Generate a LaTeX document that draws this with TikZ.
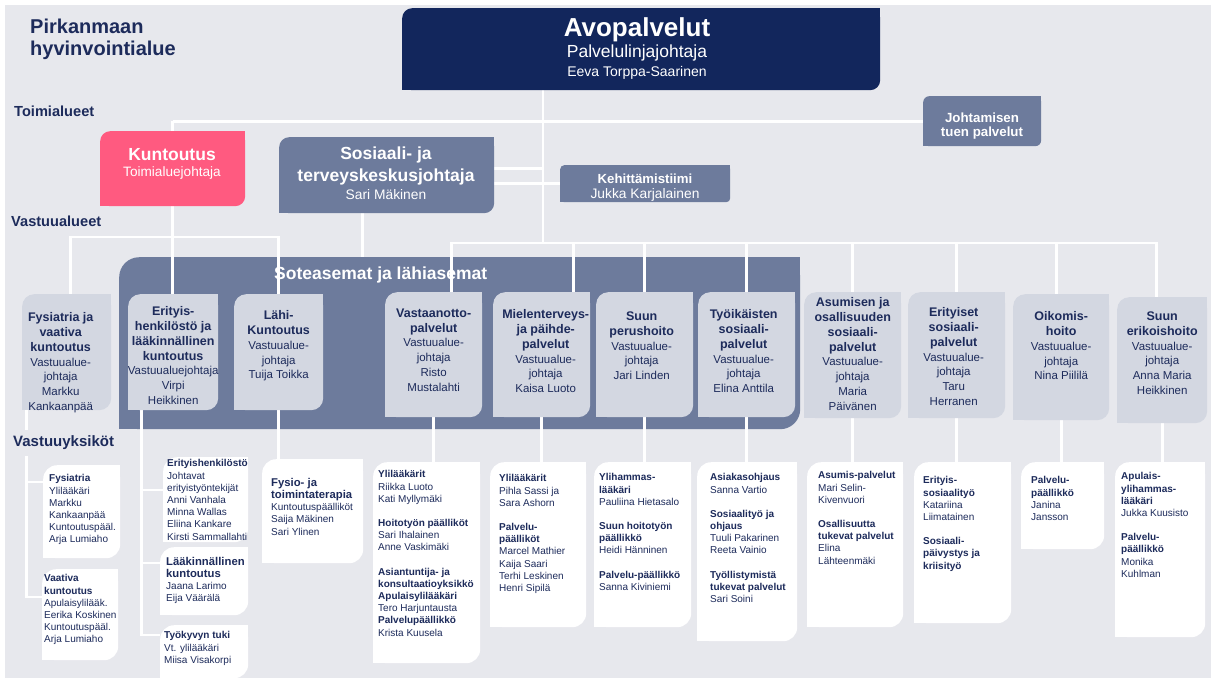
\documentclass[tikz,border=0pt]{standalone}
\usepackage{fontspec}
\setmainfont{Liberation Sans}
\usepackage{tikz}
\usetikzlibrary{positioning}
\definecolor{bgc}{HTML}{E7E8ED}
\definecolor{avoblue}{HTML}{12265C}
\definecolor{kuntpink}{HTML}{FF5A80}
\definecolor{slate}{HTML}{6D7B9C}
\definecolor{paleblue}{HTML}{D3D7E1}
\definecolor{inkblue}{HTML}{1D2B5B}
\pgfdeclarelayer{backdrop}
\pgfdeclarelayer{wires}
\pgfsetlayers{backdrop,wires,main}
\tikzstyle{wire}=[white, line width=2.8pt]
\tikzstyle{topbox}=[fill=avoblue, rounded corners=10pt, anchor=north west, inner sep=0pt]
\tikzstyle{pinkbox}=[fill=kuntpink, rounded corners=10pt, anchor=north west, inner sep=0pt]
\tikzstyle{greybox}=[fill=slate, rounded corners=6pt, anchor=north west, inner sep=0pt]
\tikzstyle{band}=[fill=slate, rounded corners=20pt, anchor=north west, inner sep=0pt]
\tikzstyle{areabox}=[fill=paleblue, rounded corners=12pt, anchor=north west, inner sep=0pt]
\tikzstyle{unitbox}=[fill=white, rounded corners=14pt, anchor=north west, inner sep=0pt]
\tikzstyle{bigtxt}=[text=white, anchor=base, inner sep=0pt]
\tikzstyle{bandtxt}=[text=white, inner sep=0pt, font=\fontsize{17.5}{21}\selectfont\bfseries]
\tikzstyle{sidetxt}=[text=inkblue, anchor=west, inner sep=0pt, font=\fontsize{14.6}{17}\selectfont\bfseries]
\tikzstyle{areatxt}=[text=inkblue, align=center, inner sep=0pt, font=\fontsize{11.5}{14.8}\selectfont]
\tikzstyle{unittxt}=[text=inkblue, align=left, inner sep=0pt, font=\fontsize{10}{12.2}\selectfont]
\newcommand{\hd}[1]{{\fontsize{12.5}{14.8}\selectfont\bfseries #1}}
\newcommand{\hdu}[1]{{\fontsize{11.3}{13}\selectfont\bfseries #1}}
\newcommand{\squarecorners}[3]{%
  \fill[#2] (#1.north east) rectangle ++(-#3,-#3);
  \fill[#2] (#1.south west) rectangle ++(#3,#3);}

\begin{document}
\begin{tikzpicture}[x=1pt, y=-1pt]
    \useasboundingbox (0,0) rectangle (1211,678);
    \begin{pgfonlayer}{backdrop}
        \fill[white] (0,0) rectangle (1211,678);
        \fill[bgc] (5,5) rectangle (1211,678);
        \node[band, minimum width=681, minimum height=172] (sote) at (119,257) {};
        \squarecorners{sote}{slate}{20pt}
    \end{pgfonlayer}
    % side titles
    \node[sidetxt, anchor=north west, align=left, font=\fontsize{20}{21.5}\selectfont\bfseries] (region) at (30,19) {Pirkanmaan\\hyvinvointialue};
    \node[sidetxt] (toimi) at (14,111.5) {Toimialueet};
    \node[sidetxt] (vastalue) at (11,221) {Vastuualueet};
    \node[sidetxt, fill=bgc, inner xsep=1pt, inner ysep=6pt, font=\fontsize{15}{18}\selectfont\bfseries] (vastyks) at (12,443) {Vastuuyksiköt};
    % top level
    \node[topbox, minimum width=478, minimum height=82] (avo) at (402,8) {};
    \squarecorners{avo}{avoblue}{10pt}
    \node[bigtxt, font=\fontsize{26}{30}\selectfont\bfseries] (avo-a) at (637,36) {Avopalvelut};
    \node[bigtxt, font=\fontsize{17.5}{21}\selectfont] (avo-b) at (637,57.5) {Palvelulinjajohtaja};
    \node[bigtxt, font=\fontsize{14}{17}\selectfont] (avo-c) at (637,76) {Eeva Torppa-Saarinen};
    \node[pinkbox, minimum width=145, minimum height=75] (kunt) at (100,131) {};
    \squarecorners{kunt}{kuntpink}{10pt}
    \node[bigtxt, font=\fontsize{17.5}{21}\selectfont\bfseries] (kunt-a) at (172,160) {Kuntoutus};
    \node[bigtxt, font=\fontsize{13.6}{16}\selectfont] (kunt-b) at (172,176.5) {Toimialuejohtaja};
    \node[greybox, rounded corners=10pt, minimum width=215, minimum height=76] (sos) at (279,137) {};
    \squarecorners{sos}{slate}{10pt}
    \node[bigtxt, font=\fontsize{17.5}{21}\selectfont\bfseries] (sos-a) at (386,159.5) {Sosiaali- ja};
    \node[bigtxt, font=\fontsize{17.5}{21}\selectfont\bfseries] (sos-b) at (386,181) {terveyskeskusjohtaja};
    \node[bigtxt, font=\fontsize{13.8}{16}\selectfont] (sos-c) at (386,199) {Sari Mäkinen};
    \node[greybox, rounded corners=4pt, minimum width=170, minimum height=37] (keh) at (560,165) {};
    \squarecorners{keh}{slate}{4pt}
    \node[bigtxt, font=\fontsize{13.2}{16}\selectfont\bfseries] (keh-a) at (645,183) {Kehittämistiimi};
    \node[bigtxt, font=\fontsize{13.8}{16}\selectfont] (keh-b) at (645,198.5) {Jukka Karjalainen};
    \node[greybox, minimum width=118, minimum height=50] (jtp) at (923,96) {};
    \squarecorners{jtp}{slate}{6pt}
    \node[bigtxt, font=\fontsize{13.3}{16}\selectfont\bfseries] (jtp-a) at (982,122) {Johtamisen};
    \node[bigtxt, font=\fontsize{13.3}{16}\selectfont\bfseries] (jtp-b) at (982,136) {tuen palvelut};
    \node[bandtxt, below right=10pt and 155pt of sote.north west] (sote-t) {Soteasemat ja lähiasemat};
    % vastuualueet
    \node[areabox, minimum width=89, minimum height=116] (fys) at (22,294) {};
    \squarecorners{fys}{paleblue}{12pt}
    \node[areatxt, below=18.5pt of fys.north, xshift=-6pt] (fys-t) {\hd{Fysiatria ja}\\\hd{vaativa}\\\hd{kuntoutus}\\Vastuualue-\\johtaja\\Markku\\Kankaanpää};
    \node[areabox, minimum width=90, minimum height=116] (eri) at (128,294) {};
    \squarecorners{eri}{paleblue}{12pt}
    \node[areatxt, below=12.5pt of eri.north] (eri-t) {\hd{Erityis-}\\\hd{henkilöstö ja}\\\hd{lääkinnällinen}\\\hd{kuntoutus}\\Vastuualuejohtaja\\Virpi\\Heikkinen};
    \node[areabox, minimum width=89, minimum height=116] (lahi) at (234,294) {};
    \squarecorners{lahi}{paleblue}{12pt}
    \node[areatxt, below=16.5pt of lahi.north] (lahi-t) {\hd{Lähi-}\\\hd{Kuntoutus}\\Vastuualue-\\johtaja\\Tuija Toikka};
    \node[areabox, minimum width=97, minimum height=125] (vast) at (385,292) {};
    \squarecorners{vast}{paleblue}{12pt}
    \node[areatxt, below=16.5pt of vast.north] (vast-t) {\hd{Vastaanotto-}\\\hd{palvelut}\\Vastuualue-\\johtaja\\Risto\\Mustalahti};
    \node[areabox, minimum width=97, minimum height=125] (miel) at (493,292) {};
    \squarecorners{miel}{paleblue}{12pt}
    \node[areatxt, below=17.5pt of miel.north, xshift=4pt] (miel-t) {\hd{Mielenterveys-}\\\hd{ja päihde-}\\\hd{palvelut}\\Vastuualue-\\johtaja\\Kaisa Luoto};
    \node[areabox, minimum width=97, minimum height=125] (suunp) at (596,292) {};
    \squarecorners{suunp}{paleblue}{12pt}
    \node[areatxt, below=19.5pt of suunp.north, xshift=-3pt] (suunp-t) {\hd{Suun}\\\hd{perushoito}\\Vastuualue-\\johtaja\\Jari Linden};
    \node[areabox, minimum width=97, minimum height=125] (tyo) at (698,292) {};
    \squarecorners{tyo}{paleblue}{12pt}
    \node[areatxt, below=17.5pt of tyo.north, xshift=-3pt] (tyo-t) {\hd{Työikäisten}\\\hd{sosiaali-}\\\hd{palvelut}\\Vastuualue-\\johtaja\\Elina Anttila};
    \node[areabox, minimum width=97, minimum height=126] (asu) at (804,292) {};
    \squarecorners{asu}{paleblue}{12pt}
    \node[areatxt, below=5.5pt of asu.north] (asu-t) {\hd{Asumisen ja}\\\hd{osallisuuden}\\\hd{sosiaali-}\\\hd{palvelut}\\Vastuualue-\\johtaja\\Maria\\Päivänen};
    \node[areabox, minimum width=97, minimum height=126] (erit) at (908,292) {};
    \squarecorners{erit}{paleblue}{12pt}
    \node[areatxt, below=15.5pt of erit.north, xshift=-3pt] (erit-t) {\hd{Erityiset}\\\hd{sosiaali-}\\\hd{palvelut}\\Vastuualue-\\johtaja\\Taru\\Herranen};
    \node[areabox, minimum width=96, minimum height=126] (oik) at (1013,294) {};
    \squarecorners{oik}{paleblue}{12pt}
    \node[areatxt, below=17.5pt of oik.north] (oik-t) {\hd{Oikomis-}\\\hd{hoito}\\Vastuualue-\\johtaja\\Nina Piililä};
    \node[areabox, minimum width=90, minimum height=126] (suune) at (1117,297) {};
    \squarecorners{suune}{paleblue}{12pt}
    \node[areatxt, below=14.5pt of suune.north] (suune-t) {\hd{Suun}\\\hd{erikoishoito}\\Vastuualue-\\johtaja\\Anna Maria\\Heikkinen};
    % vastuuyksiköt
    \node[unitbox, minimum width=77, minimum height=93] (fysy) at (43,465) {};
    \squarecorners{fysy}{white}{14pt}
    \node[unittxt, below right=9.4pt and 6pt of fysy.north west] (fysy-t) {\textbf{Fysiatria}\\Ylilääkäri\\Markku\\Kankaanpää\\Kuntoutuspääl.\\Arja Lumiaho};
    \node[unitbox, minimum width=76, minimum height=91] (vaat) at (42,569) {};
    \squarecorners{vaat}{white}{14pt}
    \node[unittxt, below right=5.4pt and 2pt of vaat.north west] (vaat-t) {\textbf{Vaativa}\\\textbf{kuntoutus}\\Apulaisylilääk.\\Eerika Koskinen\\Kuntoutuspääl.\\Arja Lumiaho};
    \node[unitbox, minimum width=85, minimum height=85] (eriy) at (163,457) {};
    \squarecorners{eriy}{white}{14pt}
    \node[unittxt, below right=2.4pt and 4pt of eriy.north west] (eriy-t) {\textbf{Erityishenkilöstö}\\Johtavat\\erityistyöntekijät\\Anni Vanhala\\Minna Wallas\\Eliina Kankare\\Kirsti Sammallahti};
    \node[unitbox, minimum width=88, minimum height=68] (laak) at (160,547) {};
    \squarecorners{laak}{white}{14pt}
    \node[unittxt, below right=10pt and 6pt of laak.north west] (laak-t) {\hdu{Lääkinnällinen}\\\hdu{kuntoutus}\\Jaana Larimo\\Eija Väärälä};
    \node[unitbox, minimum width=88, minimum height=53] (tyok) at (160,625) {};
    \squarecorners{tyok}{white}{14pt}
    \node[unittxt, below right=6.4pt and 4pt of tyok.north west] (tyok-t) {\textbf{Työkyvyn tuki}\\Vt. ylilääkäri\\Miisa Visakorpi};
    \node[unitbox, minimum width=101, minimum height=104] (fysio) at (262,459) {};
    \squarecorners{fysio}{white}{14pt}
    \node[unittxt, below right=19pt and 9pt of fysio.north west] (fysio-t) {\hdu{Fysio- ja}\\\hdu{toimintaterapia}\\Kuntoutuspäälliköt\\Saija Mäkinen\\Sari Ylinen};
    \node[unitbox, minimum width=107, minimum height=201] (vasy) at (373,462) {};
    \squarecorners{vasy}{white}{14pt}
    \node[unittxt, below right=8.4pt and 5pt of vasy.north west] (vasy-t) {\textbf{Ylilääkärit}\\Riikka Luoto\\Kati Myllymäki\\[12pt]\textbf{Hoitotyön päälliköt}\\Sari Ihalainen\\Anne Vaskimäki\\[12pt]\textbf{Asiantuntija- ja}\\\textbf{konsultaatioyksikkö}\\\textbf{Apulaisylilääkäri}\\Tero Harjuntausta\\\textbf{Palvelupäällikkö}\\Krista Kuusela};
    \node[unitbox, minimum width=96, minimum height=165] (miely) at (490,462) {};
    \squarecorners{miely}{white}{14pt}
    \node[unittxt, below right=12.4pt and 9pt of miely.north west] (miely-t) {\textbf{Ylilääkärit}\\Pihla Sassi ja\\Sara Ashorn\\[12pt]\textbf{Palvelu-}\\\textbf{päälliköt}\\Marcel Mathier\\Kaija Saari\\Terhi Leskinen\\Henri Sipilä};
    \node[unitbox, minimum width=97, minimum height=165] (suupy) at (594,462) {};
    \squarecorners{suupy}{white}{14pt}
    \node[unittxt, below right=11.4pt and 5pt of suupy.north west] (suupy-t) {\textbf{Ylihammas-}\\\textbf{lääkäri}\\Pauliina Hietasalo\\[12pt]\textbf{Suun hoitotyön}\\\textbf{päällikkö}\\Heidi Hänninen\\[12pt]\textbf{Palvelu-päällikkö}\\Sanna Kiviniemi};
    \node[unitbox, minimum width=100, minimum height=179] (tyoy) at (697,462) {};
    \squarecorners{tyoy}{white}{14pt}
    \node[unittxt, below right=11.4pt and 13pt of tyoy.north west] (tyoy-t) {\textbf{Asiakasohjaus}\\Sanna Vartio\\[12pt]\textbf{Sosiaalityö ja}\\\textbf{ohjaus}\\Tuuli Pakarinen\\Reeta Vainio\\[12pt]\textbf{Työllistymistä}\\\textbf{tukevat palvelut}\\Sari Soini};
    \node[unitbox, minimum width=96, minimum height=165] (asuy) at (807,462) {};
    \squarecorners{asuy}{white}{14pt}
    \node[unittxt, below right=9.4pt and 11pt of asuy.north west] (asuy-t) {\textbf{Asumis-palvelut}\\Mari Selin-\\Kivenvuori\\[12pt]\textbf{Osallisuutta}\\\textbf{tukevat palvelut}\\Elina\\Lähteenmäki};
    \node[unitbox, minimum width=97, minimum height=161] (erity) at (914,462) {};
    \squarecorners{erity}{white}{14pt}
    \node[unittxt, below right=14.4pt and 9pt of erity.north west] (erity-t) {\textbf{Erityis-}\\\textbf{sosiaalityö}\\Katariina\\Liimatainen\\[12pt]\textbf{Sosiaali-}\\\textbf{päivystys ja}\\\textbf{kriisityö}};
    \node[unitbox, minimum width=83, minimum height=87] (oiky) at (1021,462) {};
    \squarecorners{oiky}{white}{14pt}
    \node[unittxt, below right=14.4pt and 10pt of oiky.north west] (oiky-t) {\textbf{Palvelu-}\\\textbf{päällikkö}\\Janina\\Jansson};
    \node[unitbox, minimum width=90, minimum height=175] (suuey) at (1115,462) {};
    \squarecorners{suuey}{white}{14pt}
    \node[unittxt, below right=10.4pt and 6pt of suuey.north west] (suuey-t) {\textbf{Apulais-}\\\textbf{ylihammas-}\\\textbf{lääkäri}\\Jukka Kuusisto\\[12pt]\textbf{Palvelu-}\\\textbf{päällikkö}\\Monika\\Kuhlman};
    % connectors
    \coordinate (vbus) at (543,243);
    \coordinate (lbus) at (172,237);
    \begin{pgfonlayer}{wires}
        \draw[wire] (kunt.north |- jtp.west) -- (jtp.west);
        \draw[wire] (kunt.north |- jtp.west) -- (kunt.north |- eri.north);
        \draw[wire] (avo.south -| vbus) -- (vbus);
        \draw[wire] ([yshift=7pt]sos.east) -- ([yshift=7pt]sos.east -| vbus);
        \draw[wire] (keh.west -| sos.east) -- (keh.west);
        \draw[wire] ([xshift=-24pt]sos.south) -- ([xshift=-24pt]sos.south |- sote.north);
        \draw[wire] ([xshift=4pt]fys.north) |- (lbus) -| (lahi.north);
        \draw[wire] ([xshift=18pt]vast.north) |- ([xshift=-6pt]suune.north |- vbus) -- ([xshift=-6pt]suune.north);
        \draw[wire] ([xshift=32pt]miel.north) -- ([xshift=32pt]miel.north |- vbus);
        \draw[wire] ([xshift=-5pt]oik.north) -- ([xshift=-5pt]oik.north |- vbus);
        \foreach \b in {suunp,tyo,asu,erit}
            \draw[wire] (\b.north) -- (\b.north |- vbus);
        \draw[wire] ([xshift=-40pt]fys.south) |- ([yshift=-17pt]fysy.north west);
        \draw[wire] ([xshift=-40pt]fys.south) |- ([yshift=-28pt]vaat.north west);
        \draw[wire] ([xshift=-32pt]eri.south) |- ([yshift=-33pt]eriy.north west);
        \draw[wire] ([xshift=-32pt]eri.south) |- ([yshift=-16pt]laak.north west);
        \draw[wire] ([xshift=-32pt]eri.south) |- ([yshift=-10pt]tyok.north west);
        \foreach \a/\b in {lahi/fysio, vast/vasy, miel/miely, suunp/suupy, tyo/tyoy, asu/asuy, erit/erity, oik/oiky, suune/suuey}
            \draw[wire] (\a.south) -- (\a.south |- \b.north);
    \end{pgfonlayer}
\end{tikzpicture}
\end{document}
